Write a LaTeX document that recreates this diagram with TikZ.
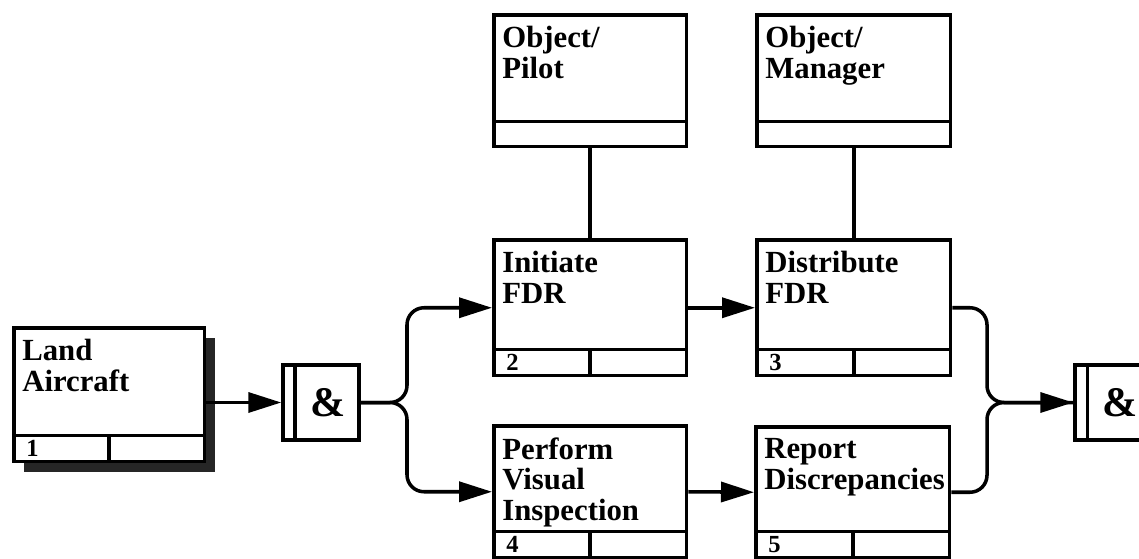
\documentclass[tikz,border=0pt]{standalone}
\usepackage{fontspec}
\setmainfont{Liberation Serif}
\usetikzlibrary{arrows.meta,calc}

\tikzset{
  funcbox/.style={draw, line width=2pt, fill=white, anchor=north west, inner sep=0pt,
                  minimum width=3.86cm, minimum height=2.72cm},
  ttl/.style={anchor=north west, align=left, inner sep=0pt,
              font=\fontsize{17.5}{17.5}\selectfont\bfseries},
  idx/.style={anchor=base west, inner sep=0pt, font=\fontsize{14}{14}\selectfont\bfseries},
  gate/.style={draw, line width=2pt, inner sep=0pt, minimum width=1.52cm, minimum height=1.5cm},
  amp/.style={inner sep=0pt, font=\fontsize{24}{24}\selectfont\bfseries},
  flow/.style={line width=2pt, -{Triangle[length=0.66cm,width=0.4cm]}},
  wire/.style={line width=2pt, rounded corners=0.34cm}
}

\begin{document}
\begin{tikzpicture}[x=0.02cm, y=-0.02cm]
    \useasboundingbox (0,0) rectangle (1139,558);
    \clip (0,0) rectangle (1139,558);

    % shadow behind the first function
    \fill[black!85] (24,338) rectangle (215,472);

    % functions
    \node[funcbox, minimum width=3.82cm, minimum height=2.68cm] (l1) at (12,326) {};
    \node[funcbox, minimum height=2.64cm] (op) at (492,13) {};
    \node[funcbox, minimum width=3.88cm, minimum height=2.64cm] (om) at (755,13) {};
    \node[funcbox] (i2) at (492,238) {};
    \node[funcbox, minimum width=3.88cm] (d3) at (755,238) {};
    \node[funcbox, minimum height=2.64cm] (p4) at (492,424) {};
    \node[funcbox, minimum width=3.88cm, minimum height=2.62cm] (r5) at (754,425) {};

    \foreach \b/\txt in {l1/{Land\\Aircraft}, op/{Object/\\Pilot}, om/{Object/\\Manager},
                         i2/{Initiate\\FDR}, d3/{Distribute\\FDR},
                         p4/{Perform\\Visual\\Inspection}, r5/{Report\\Discrepancies}} {
        \node[ttl] (\b t) at ($(\b.north west)+(10,13)$) {\txt};
    }

    % index strips
    \foreach \b in {op, om} {
        \draw[line width=2pt] ($(\b.south west)+(0,-27)$) -- ($(\b.south east)+(0,-27)$);
    }
    \foreach \b/\n in {l1/1, i2/2, d3/3, p4/4, r5/5} {
        \draw[line width=2pt] ($(\b.south west)+(0,-28)$) -- ($(\b.south east)+(0,-28)$);
        \draw[line width=2pt] ($(\b.south)+(0,-28)$) -- (\b.south);
        \node[idx] (\b n) at ($(\b.south west)+(14,-7)$) {\n};
    }

    % and gates
    \node[gate] (g1) at (321,402.5) {};
    \node[gate] (g2) at (1113,402.5) {};
    \foreach \g in {g1, g2} {
        \draw[line width=2pt] ($(\g.north west)+(14,0)$) -- ($(\g.south west)+(14,0)$);
        \node[amp] (\g a) at ($(\g.center)+(7,0)$) {\&};
    }

    \coordinate (jl) at (407,402.5);
    \coordinate (jr) at (987,402.5);

    % connectors
    \draw[flow] (l1.east |- g1.west) -- (g1.west);
    \draw[wire, flow] (g1.east) -- (jl) |- (i2.west);
    \draw[wire, flow] (g1.east) -- (jl) |- (p4.west);
    \draw[flow] (i2.east) -- (d3.west);
    \draw[flow] (p4.east) -- (r5.west);
    \draw[wire, flow] (d3.east) -| (jr) -- (g2.west);
    \draw[wire] (r5.east) -| (jr) -- (g2.west);
    \draw[line width=2pt] (op.south) -- (i2.north);
    \draw[line width=2pt] (om.south) -- (d3.north);
\end{tikzpicture}
\end{document}
